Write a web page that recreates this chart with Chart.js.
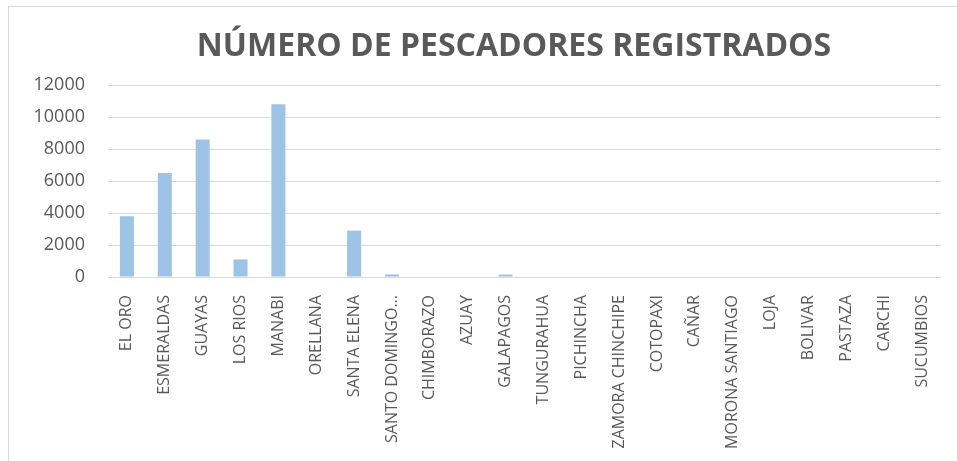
<!DOCTYPE html>
<html>
<head>
<meta charset="utf-8">
<script src="https://cdn.jsdelivr.net/npm/chart.js@4/dist/chart.umd.min.js"></script>
<style>
  html, body { margin: 0; padding: 0; background: #fff; overflow: hidden; }
  #frame {
    position: absolute; left: 8px; top: 6px;
    width: 1000px; height: 500px;
    border: 1px solid #d9d9d9;
  }
  #wrap { position: absolute; left: 0; top: 0; width: 957px; height: 461px; }
</style>
</head>
<body>
<div id="frame"></div>
<div id="wrap"><canvas id="fishChart"></canvas></div>
<script>
// provinces and registered fishers
const provinces = ['EL ORO', 'ESMERALDAS', 'GUAYAS', 'LOS RIOS', 'MANABI', 'ORELLANA',
    'SANTA ELENA', 'SANTO DOMINGO...', 'CHIMBORAZO', 'AZUAY', 'GALAPAGOS', 'TUNGURAHUA',
    'PICHINCHA', 'ZAMORA CHINCHIPE', 'COTOPAXI', 'CAÑAR', 'MORONA SANTIAGO', 'LOJA',
    'BOLIVAR', 'PASTAZA', 'CARCHI', 'SUCUMBIOS'];
const fishers = [3800, 6500, 8600, 1100, 10800, 0,
    2900, 160, 0, 0, 150, 0,
    0, 0, 0, 0, 0, 0,
    0, 0, 0, 0];
const yTicks = [0, 2000, 4000, 6000, 8000, 10000, 12000];
const chartTitle = 'NÚMERO DE PESCADORES REGISTRADOS';

const textColor = '#595959';

// title drawn centred over the whole frame, like the spreadsheet
const titlePlugin = {
    id: 'frameTitle',
    afterDraw(chart) {
        const ctx = chart.ctx;
        ctx.save();
        ctx.font = 'bold 32px "Open Sans"';
        ctx.fillStyle = textColor;
        ctx.textAlign = 'center';
        ctx.textBaseline = 'alphabetic';
        ctx.fillText(chartTitle, 514, 56);
        ctx.restore();
    }
};

new Chart(document.getElementById('fishChart').getContext('2d'), {
    type: 'bar',
    data: {
        labels: provinces,
        datasets: [{
            label: 'Pescadores',
            data: fishers,
            backgroundColor: '#9dc3e6',
            borderWidth: 0,
            barPercentage: 0.37,
            categoryPercentage: 1
        }]
    },
    options: {
        responsive: true,
        maintainAspectRatio: false,
        animation: false,
        layout: { padding: { left: 8, right: 16, top: 85, bottom: 0 } },
        plugins: {
            legend: { display: false },
            title: { display: false },
            tooltip: { enabled: false }
        },
        scales: {
            x: {
                grid: { display: false },
                border: { display: false },
                ticks: {
                    color: textColor,
                    font: { family: 'Open Sans', size: 16 },
                    minRotation: 90,
                    maxRotation: 90,
                    autoSkip: false,
                    padding: 10
                },
                afterFit(scale) {
                    scale.height = 184;
                    scale.paddingLeft = 0;
                    scale.paddingRight = 0;
                }
            },
            y: {
                min: 0,
                max: 12000,
                grid: { color: '#d9d9d9', lineWidth: 1, drawTicks: false },
                border: { display: false },
                afterBuildTicks(scale) {
                    scale.ticks = yTicks.map(v => ({ value: v }));
                },
                ticks: {
                    color: textColor,
                    font: { family: 'Open Sans', size: 18 },
                    padding: 23,
                    callback: (value) => String(value)
                },
                afterFit(scale) {
                    scale.width = 100;
                }
            }
        }
    },
    plugins: [titlePlugin]
});
</script>
</body>
</html>
